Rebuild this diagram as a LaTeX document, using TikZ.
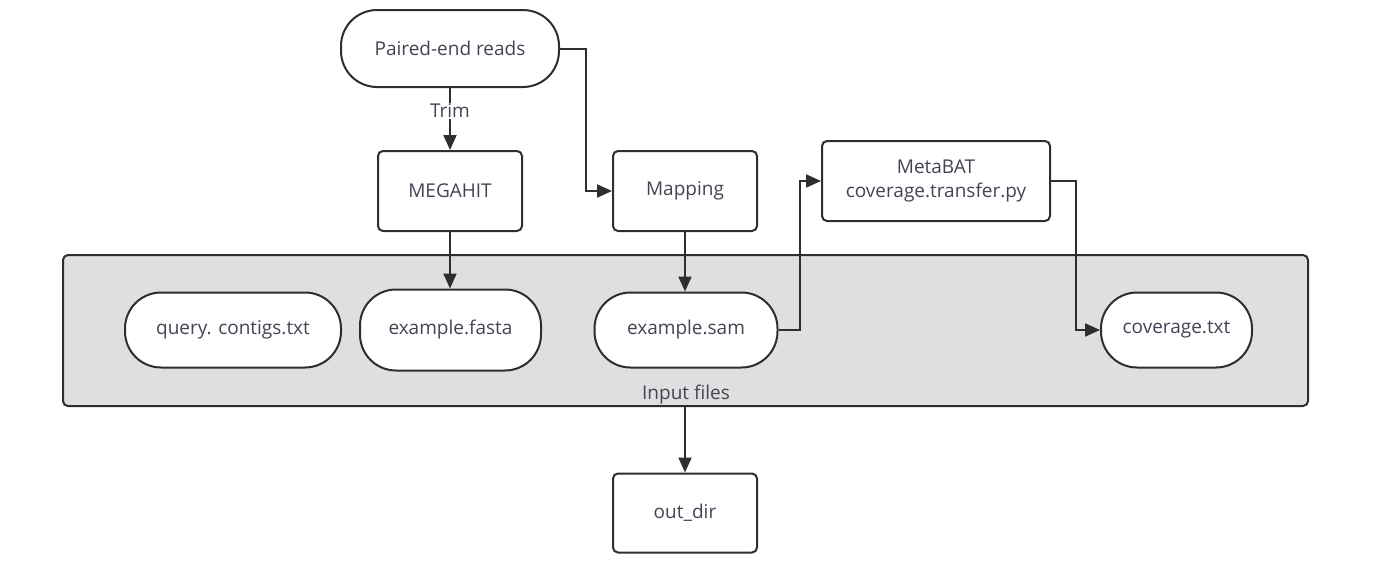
\documentclass[tikz,border=0pt]{standalone}
\usepackage{fontspec}
\setmainfont{Open Sans}
\usetikzlibrary{arrows.meta}
\definecolor{txt}{HTML}{444455}
\definecolor{ln}{HTML}{2E2E2E}
\definecolor{grp}{HTML}{DFDFDF}
\tikzset{
  base/.style={draw=ln, line width=2pt, fill=white, inner sep=0pt, text=txt,
    font=\fontsize{19}{24}\selectfont, align=center},
  procbox/.style={base, rounded corners=5pt},
  stadium/.style={base, rounded corners=36pt},
  conn/.style={draw=ln, line width=2pt, -{Triangle[length=15pt,width=13pt]}},
  lbl/.style={text=txt, font=\fontsize{19}{24}\selectfont, inner sep=1pt}
}
\begin{document}
\begin{tikzpicture}[x=1pt,y=-1pt]
\useasboundingbox (0,0) rectangle (1376,568);
% group
\node[draw=ln, line width=2pt, fill=grp, rounded corners=5pt, minimum width=1245pt, minimum height=151pt, inner sep=0pt] (grp) at (685.5,330.5) {};
\node[lbl, anchor=south] (inlbl) at (686,405) {Input files};
% nodes
\node[stadium, minimum width=218pt, minimum height=77pt] (pe) at (450,48.5) {Paired-end reads};
\node[procbox, minimum width=144pt, minimum height=80pt] (mega) at (450,191) {MEGAHIT};
\node[procbox, minimum width=144pt, minimum height=80pt] (map) at (685,191) {Mapping};
\node[procbox, minimum width=228pt, minimum height=80pt] (meta) at (936,181) {MetaBAT\\coverage.transfer.py};
\node[stadium, minimum width=216pt, minimum height=75pt] (query) at (233,330) {query. contigs.txt};
\node[stadium, minimum width=181pt, minimum height=81pt] (fasta) at (450.5,330) {example.fasta};
\node[stadium, minimum width=183pt, minimum height=75pt] (sam) at (686,330) {example.sam};
\node[stadium, minimum width=151pt, minimum height=75pt] (cov) at (1176.5,330) {coverage.txt};
\node[procbox, minimum width=144pt, minimum height=79pt] (out) at (685,513) {out\_dir};
% connectors
\draw[conn] (pe.south) -- node[lbl, fill=white, pos=0.37] (trim) {Trim} (mega.north);
\draw[conn] (pe.east) -| (586,191) -- (map.west);
\draw[conn] (mega.south) -- (mega.south |- fasta.north);
\draw[conn] (map.south) -- (map.south |- sam.north);
\draw[conn] (sam.east) -| (800,181) -- (meta.west);
\draw[conn] (meta.east) -| (1076,330) -- (cov.west);
\draw[conn] (grp.south -| out.north) -- (out.north);
\end{tikzpicture}
\end{document}
